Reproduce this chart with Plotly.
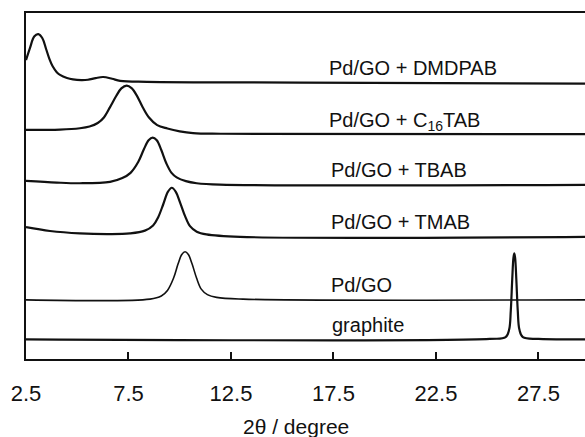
import plotly.graph_objects as go

# 2theta (degree) and stacked intensity (a.u., offset for display)
x_dmdpab = [2.5, 2.7, 2.9, 3.10, 3.3, 3.48, 3.65, 3.8, 4.0, 4.16, 4.5, 4.79, 5.2, 5.52, 5.9, 6.26, 6.7, 7.09, 8.40, 15.87, 29.77]
y_dmdpab = [86.4, 90.0, 93.2, 93.9, 92.7, 89.6, 86.6, 84.6, 82.9, 82.1, 81.2, 80.8, 80.6, 80.7, 81.2, 81.5, 81.0, 80.4, 80.1, 79.9, 79.6]

x_c16tab = [2.5, 4.16, 5.13, 5.6, 6.0, 6.3, 6.6, 6.9, 7.15, 7.41, 7.65, 7.9, 8.2, 8.5, 8.9, 9.4, 10.0, 10.65, 12.0, 29.77]
y_c16tab = [66.2, 66.3, 66.7, 67.2, 68.2, 69.8, 72.8, 76.0, 78.2, 79.0, 78.3, 76.2, 72.7, 69.8, 67.6, 66.6, 65.8, 65.3, 65.1, 65.0]

x_tbab = [2.5, 4.0, 5.13, 6.6, 7.2, 7.6, 7.98, 8.25, 8.48, 8.68, 8.88, 9.1, 9.35, 9.6, 9.85, 10.3, 10.83, 11.96, 29.77]
y_tbab = [51.5, 51.0, 50.8, 51.2, 52.3, 53.8, 57.0, 60.6, 63.2, 64.0, 63.2, 60.4, 56.5, 53.8, 52.5, 51.4, 50.8, 50.4, 50.3]

x_tmab = [2.5, 3.67, 5.13, 6.6, 7.57, 8.3, 8.7, 8.95, 9.2, 9.42, 9.61, 9.8, 10.03, 10.26, 10.5, 10.83, 11.3, 12.94, 29.77]
y_tmab = [38.1, 37.0, 36.3, 36.1, 36.3, 37.1, 38.6, 41.0, 44.8, 48.3, 49.5, 48.4, 45.0, 41.3, 38.4, 36.8, 36.0, 35.3, 35.3]

x_pdgo = [2.5, 8.55, 9.1, 9.4, 9.7, 9.92, 10.1, 10.26, 10.42, 10.6, 10.82, 11.05, 11.35, 11.8, 13.09, 29.77]
y_pdgo = [17.1, 17.3, 18.2, 19.8, 23.4, 27.5, 30.2, 31.0, 30.2, 27.5, 23.4, 20.2, 18.6, 17.8, 17.3, 17.1]

x_graphite = [2.5, 25.13, 25.9, 26.07, 26.15, 26.22, 26.28, 26.32, 26.36, 26.42, 26.49, 26.57, 26.74, 27.5, 29.77]
y_graphite = [5.7, 5.8, 6.3, 8.5, 14.0, 23.0, 29.3, 30.5, 29.3, 23.0, 14.0, 8.5, 6.3, 5.8, 5.7]

labels = ["Pd/GO + DMDPAB", "Pd/GO + C<sub>16</sub>TAB", "Pd/GO + TBAB",
          "Pd/GO + TMAB", "Pd/GO", "graphite"]
label_x = [17.2, 17.2, 17.3, 17.3, 17.3, 17.35]
label_y = [84.0, 68.6, 54.6, 39.7, 21.4, 9.8]

tick_vals = [2.5, 7.5, 12.5, 17.5, 22.5, 27.5]
tick_text = ["2.5", "7.5", "12.5", "17.5", "22.5", "27.5"]

series = [
    (x_dmdpab, y_dmdpab, 2.2),
    (x_c16tab, y_c16tab, 2.2),
    (x_tbab, y_tbab, 2.2),
    (x_tmab, y_tmab, 2.2),
    (x_pdgo, y_pdgo, 1.6),
    (x_graphite, y_graphite, 2.2),
]

FONT = "Arial, Liberation Sans, sans-serif"
fig = go.Figure()
for xs, ys, w in series:
    fig.add_trace(go.Scatter(x=xs, y=ys, mode="lines",
                             line=dict(color="#111111", width=w, shape="spline", smoothing=1.0),
                             showlegend=False, hoverinfo="skip"))

for t, lx, ly in zip(labels, label_x, label_y):
    fig.add_annotation(x=lx, y=ly, text=t, showarrow=False, xanchor="left", yanchor="middle",
                       font=dict(family=FONT, size=20, color="#111111"))

fig.add_annotation(x=15.67, y=0, yref="y", text="2θ / degree", showarrow=False,
                   xanchor="center", yanchor="top", yshift=-54,
                   font=dict(family=FONT, size=21, color="#111111"))

fig.update_layout(
    width=585, height=437,
    margin=dict(l=26, r=0, t=13, b=78),
    paper_bgcolor="white", plot_bgcolor="white",
    font=dict(family=FONT, size=22, color="#111111"),
)
fig.update_xaxes(range=[2.5, 29.77], tickvals=tick_vals, ticktext=tick_text,
                 showline=True, linecolor="#111111", linewidth=2, mirror=True,
                 ticks="inside", ticklen=7, tickwidth=2, tickcolor="#111111",
                 showgrid=False, zeroline=False,
                 tickfont=dict(family=FONT, size=22, color="#111111"),
                 ticklabelstandoff=14)
fig.update_yaxes(range=[0, 100], showline=True, linecolor="#111111", linewidth=2,
                 showticklabels=False, ticks="", showgrid=False, zeroline=False)

fig.write_html("out.html")
